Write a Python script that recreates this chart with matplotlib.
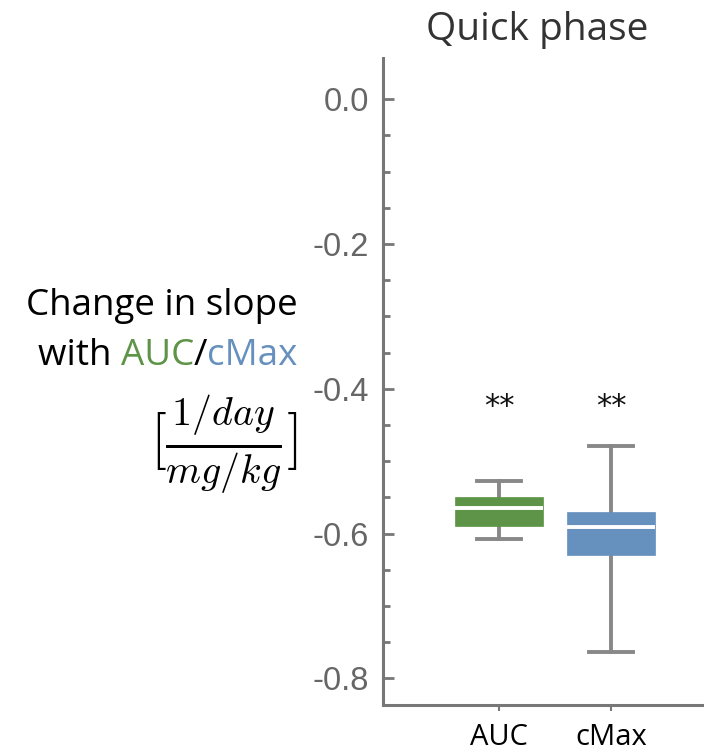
"""
Quick phase: change in slope with AUC / cMax, box summary.
"""
import matplotlib
matplotlib.use("Agg")
import matplotlib.pyplot as plt
from matplotlib.ticker import FixedLocator

# box statistics
LABELS = ["AUC", "cMax"]
MEDIANS = [-0.565, -0.591]
Q1 = [-0.589, -0.629]
Q3 = [-0.550, -0.570]
WHISLO = [-0.608, -0.764]
WHISHI = [-0.528, -0.479]
STARS = ["**", "**"]
COLORS = ["#5e9448", "#6690bd"]

YTICKS = [0.0, -0.2, -0.4, -0.6, -0.8]
YTICKLABELS = ["0.0", "-0.2", "-0.4", "-0.6", "-0.8"]
YMINOR = [-0.05, -0.1, -0.15, -0.25, -0.3, -0.35, -0.45, -0.5, -0.55,
          -0.65, -0.7, -0.75]

AXIS_GRAY = "#777777"
TICK_GRAY = "#666666"

plt.rcParams["mathtext.fontset"] = "cm"

fig = plt.figure(figsize=(7.04, 7.55), dpi=100)
ax = fig.add_axes([0.544, 0.066, 0.456, 0.857])

stats = []
for i, lab in enumerate(LABELS):
    stats.append(dict(label=lab, med=MEDIANS[i], q1=Q1[i], q3=Q3[i],
                      whislo=WHISLO[i], whishi=WHISHI[i], fliers=[]))

positions = list(range(len(LABELS)))
bp = ax.bxp(stats, positions=positions, widths=0.78, patch_artist=True,
            showfliers=False,
            whiskerprops=dict(color="#888888", lw=2.8),
            capprops=dict(color="#888888", lw=2.8),
            medianprops=dict(color="white", lw=2.8),
            capwidths=0.39)
for patch, c in zip(bp["boxes"], COLORS):
    patch.set_facecolor(c)
    patch.set_edgecolor(c)
    patch.set_linewidth(0.5)
    patch.set_zorder(3)
for m in bp["medians"]:
    m.set_zorder(4)

for x, s in zip(positions, STARS):
    ax.text(x, -0.424, s, ha="center", va="center", fontsize=22,
            color="#111111", family="DejaVu Sans")

ax.set_xlim(-1.036, 1.83)
ax.set_ylim(-0.837, 0.0567)

ax.spines["top"].set_visible(False)
ax.spines["right"].set_visible(False)
for sp in ("left", "bottom"):
    ax.spines[sp].set_color(AXIS_GRAY)
    ax.spines[sp].set_linewidth(2.2)

ax.set_yticks(YTICKS)
ax.set_yticklabels(YTICKLABELS)
ax.yaxis.set_minor_locator(FixedLocator(YMINOR))
ax.tick_params(axis="y", which="major", direction="in", length=8, width=2,
               color=AXIS_GRAY, labelcolor=TICK_GRAY, labelsize=23.5, pad=10)
ax.tick_params(axis="y", which="minor", direction="in", length=5, width=2,
               color=AXIS_GRAY)
for t in ax.get_yticklabels():
    t.set_family("Liberation Sans")

ax.set_xticks(positions)
ax.set_xticklabels(LABELS)
ax.tick_params(axis="x", direction="out", length=4, width=1.5,
               color=AXIS_GRAY, labelcolor="black", labelsize=21, pad=9)
for t in ax.get_xticklabels():
    t.set_family("Open Sans")

fig.text(0.763, 0.947, "Quick phase", ha="center", va="baseline",
         fontsize=28, color="#333333", family="Open Sans")

# y label built from pieces so AUC / cMax can be coloured
FS = 26.5
fig.text(0.423, 0.583, "Change in slope", ha="right", va="baseline",
         fontsize=FS, color="black", family="Open Sans")
t1 = fig.text(0.423, 0.516, "cMax", ha="right", va="baseline",
              fontsize=FS, color=COLORS[1], family="Open Sans")
fig.canvas.draw()
r = fig.canvas.get_renderer()
bb = t1.get_window_extent(r)
x1 = bb.x0 / fig.bbox.width
t2 = fig.text(x1, 0.516, "/", ha="right", va="baseline",
              fontsize=FS, color="black", family="Open Sans")
bb = t2.get_window_extent(r)
x2 = bb.x0 / fig.bbox.width
t3 = fig.text(x2, 0.516, "AUC", ha="right", va="baseline",
              fontsize=FS, color=COLORS[0], family="Open Sans")
bb = t3.get_window_extent(r)
x3 = bb.x0 / fig.bbox.width
fig.text(x3, 0.516, "with ", ha="right", va="baseline",
         fontsize=FS, color="black", family="Open Sans")

fig.text(0.423, 0.411, r"$[\frac{1/day}{mg/kg}]$", ha="right", va="center",
         fontsize=41, color="black")

fig.savefig("out.png", dpi=100)
